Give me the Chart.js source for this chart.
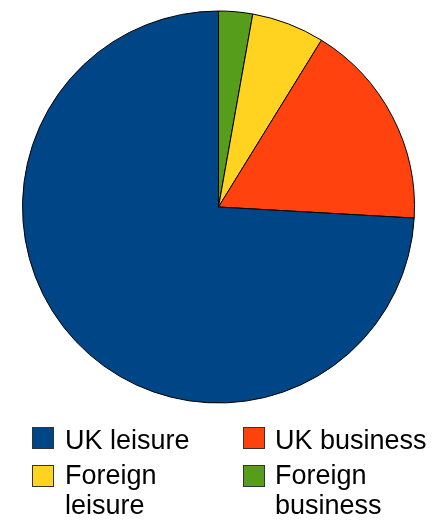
<!DOCTYPE html>
<html><head><meta charset="utf-8">
<script src="https://cdn.jsdelivr.net/npm/chart.js@4/dist/chart.umd.min.js"></script>
<style>
html,body{margin:0;padding:0;background:#fff;}
#wrap{position:relative;width:437px;height:520px;overflow:hidden;}
canvas{position:absolute;left:0;top:0;}
.lg{position:absolute;font-family:"Liberation Sans",Arial,sans-serif;font-size:27px;line-height:30px;color:#000;white-space:nowrap;}
.sw{position:absolute;width:20px;height:20px;border:1px solid #333;}
</style></head>
<body>
<div id="wrap"><canvas id="c" width="437" height="520"></canvas><div id="legend"></div></div>
<script>
const categories = ["Foreign business","Foreign leisure","UK business","UK leisure"];
const values = [2.8, 6.0, 17.1, 74.1];
const colors = ["#579d1c","#ffd320","#ff420e","#004586"];
const legendOrder = ["UK leisure","UK business","Foreign leisure","Foreign business"];
const legendText = ["UK leisure","UK business","Foreign<br>leisure","Foreign<br>business"];

new Chart(document.getElementById('c'), {
  type:'pie',
  data:{labels:categories,datasets:[{data:values,backgroundColor:colors,borderColor:'#000',borderWidth:1}]},
  options:{responsive:false,animation:false,
    layout:{padding:{top:10,bottom:116,left:22,right:22}},
    plugins:{legend:{display:false},tooltip:{enabled:false}}}
});

const pos=[[32,427],[243,427],[32,465],[243,465]];
const tpos=[[65,425],[275,425],[65,460],[275,460]];
const lg=document.getElementById('legend');
legendOrder.forEach((name,i)=>{
  const idx=categories.indexOf(name);
  const s=document.createElement('div');s.className='sw';
  s.style.left=pos[i][0]+'px';s.style.top=pos[i][1]+'px';s.style.background=colors[idx];
  lg.appendChild(s);
  const t=document.createElement('div');t.className='lg';
  t.style.left=tpos[i][0]+'px';t.style.top=tpos[i][1]+'px';t.innerHTML=legendText[i];
  lg.appendChild(t);
});
</script>
</body></html>
